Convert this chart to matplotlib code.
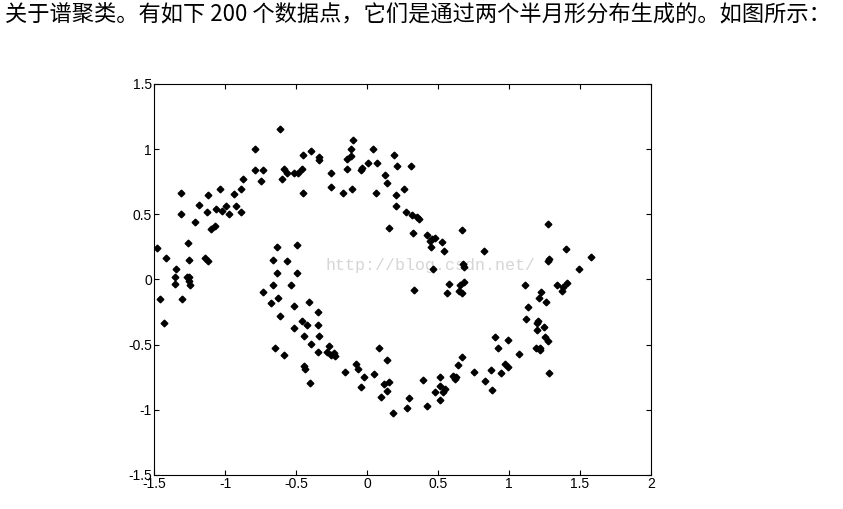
import numpy as np
from matplotlib import pyplot as plt

# 两个半月形分布的 200 个点
x_vals = [
    -0.611, -0.787, -0.394, -0.450, -0.337, -0.337, -0.787, -0.731, -0.585, -0.562,
    -0.511, -0.487, -0.457, -0.602, -0.747, -0.876, -0.885, -1.035, -0.935, -1.117,
    -1.309, -0.450, -1.183, -0.926, -0.996, -1.063, -1.019, -1.124, -0.890, -0.972,
    -1.309, -1.214, -1.068, -1.101, -1.478, -1.263, -1.415, -1.143, -1.117, -1.256,
    -1.342, -1.351, -1.351, -1.270, -1.253, -1.256, -1.246, -1.460, -1.305, -1.431,
    -0.096, -0.112, 0.040, -0.112, -0.143, 0.188, -0.143, 0.009, 0.072, -0.042,
    -0.032, 0.211, 0.307, -0.255, 0.129, 0.138, -0.255, -0.169, -0.103, 0.065,
    0.258, 0.202, 0.204, 0.274, 0.316, 0.353, 0.363, 0.155, 0.323, 0.670,
    0.420, 0.455, 0.478, 0.443, 0.525, 0.450, 0.539, 0.827, 0.673, 0.684,
    0.466, 0.578, 0.684, 0.654, 0.560, 0.647, 0.666, 0.332,
    1.274, 1.402, 1.281, 1.272, 1.576, 1.490, 1.112, 1.337, 1.410, 1.381,
    1.376, 1.224, 1.208, 1.264, 1.136, 1.119, 1.205, 1.200, 1.249, 1.200,
    1.256, 1.273, 1.193, 1.216, 1.217, 0.902, 0.991, 0.926, 1.070, 0.668,
    0.644, 0.975, 0.996, 0.870, 0.757, 0.942, 1.280, 0.517, 0.608, 0.628,
    0.620, 0.829, 0.878, 0.394, 0.515, 0.550, 0.532, 0.476, 0.515, 0.420,
    0.299, 0.283, 0.186, -0.635, -0.490, -0.659, -0.562, -0.635, -0.490, -0.659,
    -0.538, -0.732, -0.628, -0.676, -0.410, -0.513, -0.342, -0.611, -0.457, -0.424,
    -0.344, -0.513, -0.441, -0.337, -0.391, -0.650, -0.265, -0.588, -0.346, -0.281,
    -0.253, -0.234, -0.225, 0.082, 0.138, -0.443, -0.434, -0.077, -0.063, -0.155,
    0.049, -0.021, 0.121, 0.155, -0.040, -0.401, 0.141, 0.097,
]
y_vals = [
    1.153, 1.002, 0.984, 0.958, 0.942, 0.917, 0.840, 0.840, 0.850, 0.820,
    0.820, 0.820, 0.850, 0.771, 0.756, 0.771, 0.695, 0.695, 0.658, 0.649,
    0.666, 0.666, 0.569, 0.562, 0.562, 0.543, 0.526, 0.518, 0.518, 0.500,
    0.500, 0.439, 0.411, 0.385, 0.244, 0.280, 0.167, 0.167, 0.140, 0.150,
    0.081, 0.021, -0.035, 0.021, 0.021, -0.014, -0.045, -0.150, -0.150, -0.336,
    1.071, 1.002, 1.002, 0.950, 0.923, 0.958, 0.850, 0.896, 0.896, 0.840,
    0.856, 0.871, 0.871, 0.820, 0.800, 0.738, 0.712, 0.662, 0.695, 0.662,
    0.695, 0.651, 0.564, 0.520, 0.493, 0.482, 0.467, 0.398, 0.359, 0.380,
    0.342, 0.309, 0.316, 0.298, 0.288, 0.247, 0.219, 0.219, 0.119, 0.098,
    0.081, -0.035, -0.019, -0.045, -0.106, -0.088, -0.101, -0.081,
    0.424, 0.236, 0.160, 0.140, 0.175, 0.078, -0.045, -0.045, -0.025, -0.061,
    -0.087, -0.096, -0.140, -0.175, -0.211, -0.305, -0.321, -0.336, -0.362, -0.388,
    -0.439, -0.474, -0.526, -0.522, -0.541, -0.439, -0.466, -0.527, -0.572, -0.597,
    -0.658, -0.650, -0.669, -0.695, -0.712, -0.720, -0.720, -0.746, -0.739, -0.748,
    -0.764, -0.779, -0.846, -0.774, -0.817, -0.843, -0.861, -0.861, -0.925, -0.969,
    -0.906, -0.985, -1.021, 0.246, 0.263, 0.150, 0.142, 0.052, 0.052, -0.045,
    -0.045, -0.096, -0.142, -0.183, -0.175, -0.203, -0.247, -0.282, -0.316, -0.351,
    -0.351, -0.370, -0.434, -0.434, -0.493, -0.526, -0.510, -0.579, -0.554, -0.554,
    -0.579, -0.566, -0.585, -0.528, -0.614, -0.664, -0.685, -0.651, -0.685, -0.712,
    -0.723, -0.748, -0.800, -0.784, -0.823, -0.792, -0.853, -0.898,
]

x_ticks = [-1.5, -1, -0.5, 0, 0.5, 1, 1.5, 2]
x_labels = ['-1.5', '-1', '-0.5', '0', '0.5', '1', '1.5', '2']
y_ticks = [-1.5, -1, -0.5, 0, 0.5, 1, 1.5]
y_labels = ['-1.5', '-1', '-0.5', '0', '0.5', '1', '1.5']

title_text = '关于谱聚类。有如下 200 个数据点，它们是通过两个半月形分布生成的。如图所示：'
watermark = 'http://blog.csdn.net/'

fig = plt.figure(figsize=(8.43, 5.09), dpi=100)
fig.text(0.006, 0.972, title_text, ha='left', va='center', fontsize=16,
         family=['Noto Sans CJK SC', 'DejaVu Sans'], color='black')

ax = fig.add_axes([0.1827, 0.0668, 0.5895, 0.7682])
ax.plot(x_vals, y_vals, linestyle='none', marker='D', markersize=3.4,
        color='black', zorder=3)

# 水印
ax.text(-0.29, 0.11, watermark, ha='left', va='center', fontsize=12,
        family='Liberation Mono', color='#d6d6d6', zorder=1)

ax.set_xlim(-1.5, 2)
ax.set_ylim(-1.5, 1.5)
ax.set_xticks(x_ticks)
ax.set_xticklabels(x_labels, family='Liberation Sans', fontsize=10)
ax.set_yticks(y_ticks)
ax.set_yticklabels(y_labels, family='Liberation Sans', fontsize=10)
ax.tick_params(direction='in', length=3.5, width=0.8, top=True, right=True, pad=1.5)
for sp in ax.spines.values():
    sp.set_linewidth(0.8)

fig.savefig('out.png', dpi=100)
